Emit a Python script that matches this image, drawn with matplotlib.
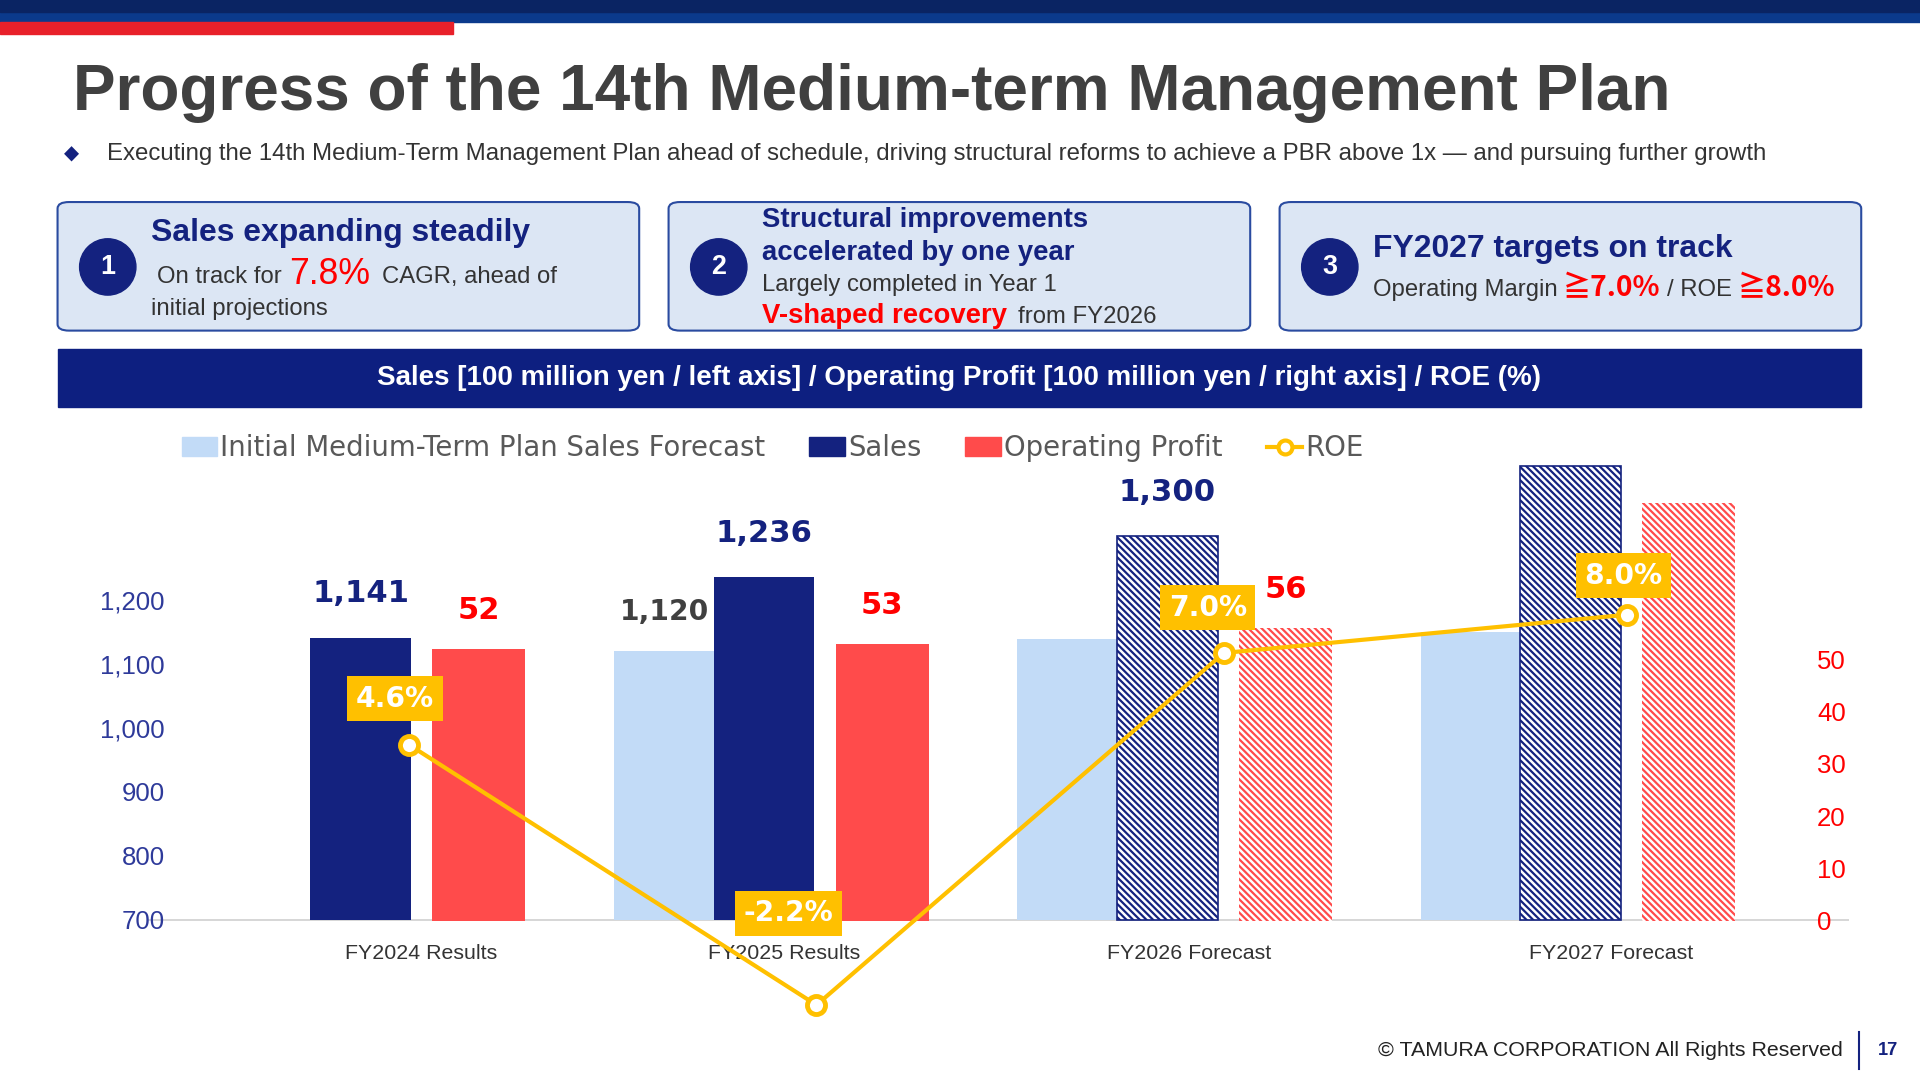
import matplotlib
matplotlib.use("Agg")
import matplotlib.pyplot as plt
from matplotlib.patches import Rectangle, FancyBboxPatch, Ellipse
from matplotlib.lines import Line2D
import numpy as np

plt.rcParams['font.family'] = ['Arial', 'Liberation Sans', 'DejaVu Sans']
plt.rcParams['hatch.linewidth'] = 1.6

categories = ["FY2024 Results", "FY2025 Results", "FY2026 Forecast", "FY2027 Forecast"]
initial_plan = [None, 1120, 1139, 1150]
sales = [1141, 1236, 1300, 1410]
op_profit = [52, 53, 56, 80]
roe = [4.6, -2.2, 7.0, 8.0]
forecast = [False, False, True, True]
sales_labels = ["1,141", "1,236", "1,300", ""]
op_labels = ["52", "53", "56", ""]
roe_labels = ["4.6%", "-2.2%", "7.0%", "8.0%"]
initial_labels = ["", "1,120", "", ""]

NAVY = "#14227F"; LBLUE = "#C2DBF7"; RED = "#FF4B4B"; GOLD = "#FFC000"; DARK = "#404040"
W, H = 1568, 882
def fx(x): return x / W
def fy(y): return 1 - y / H
S = 0.882  # ref px -> pt

fig = plt.figure(figsize=(19.2, 10.8), dpi=100)
fig.patches.append(Rectangle((0, fy(18)), 1, 18 / H, transform=fig.transFigure, color="#0B3A8C", zorder=0))
fig.patches.append(Rectangle((0, fy(10)), 1, 10 / H, transform=fig.transFigure, color="#0A2463", zorder=0))
fig.patches.append(Rectangle((0, fy(28)), fx(370), 10 / H, transform=fig.transFigure, color="#E8202A", zorder=0))
fig.text(fx(60), fy(76), "Progress of the 14th Medium-term Management Plan", fontsize=52.2 * S,
         fontweight="bold", color=DARK, va="center")
fig.text(fx(52), fy(126), "◆", fontsize=16 * S, color=NAVY, va="center", family=["DejaVu Sans"])
fig.text(fx(87), fy(126), "Executing the 14th Medium-Term Management Plan ahead of schedule, driving structural reforms to achieve a PBR above 1x — and pursuing further growth",
         fontsize=19.6 * S, color="#333333", va="center")

for bx in (47, 546, 1045):
    fig.patches.append(FancyBboxPatch((fx(bx), fy(270)), fx(475), 105 / H, transform=fig.transFigure,
                                      boxstyle="round,pad=0,rounding_size=0.006", fc="#DCE6F4", ec="#2A4BA0", lw=1.5))
for cx, n in ((88, "1"), (587, "2"), (1086, "3")):
    fig.patches.append(Ellipse((fx(cx), fy(218)), 46 / W, 46 / H, transform=fig.transFigure, color=NAVY, zorder=2))
    fig.text(fx(cx), fy(218), n, color="white", fontsize=22 * S, fontweight="bold", ha="center", va="center")

fig.text(fx(123), fy(190), "Sales expanding steadily", fontsize=26 * S, fontweight="bold", color=NAVY, va="center")
fig.text(fx(128), fy(226), "On track for ", fontsize=19.5 * S, color="#333333", va="center")
fig.text(fx(236), fy(224), "7.8%", fontsize=29 * S, color="#FF0000", va="center")
fig.text(fx(312), fy(226), "CAGR, ahead of", fontsize=19.5 * S, color="#333333", va="center")
fig.text(fx(123), fy(252), "initial projections", fontsize=19.5 * S, color="#333333", va="center")

fig.text(fx(622), fy(180), "Structural improvements", fontsize=22.5 * S, fontweight="bold", color=NAVY, va="center")
fig.text(fx(622), fy(207), "accelerated by one year", fontsize=22.5 * S, fontweight="bold", color=NAVY, va="center")
fig.text(fx(622), fy(233), "Largely completed in Year 1", fontsize=19.5 * S, color="#333333", va="center")
fig.text(fx(622), fy(258), "V-shaped recovery", fontsize=22.5 * S, fontweight="bold", color="#FF0000", va="center")
fig.text(fx(831), fy(259), "from FY2026", fontsize=19.5 * S, color="#333333", va="center")

fig.text(fx(1121), fy(203), "FY2027 targets on track", fontsize=26 * S, fontweight="bold", color=NAVY, va="center")
fig.text(fx(1121), fy(237), "Operating Margin", fontsize=19.5 * S, color="#333333", va="center")
fig.text(fx(1276), fy(235), "≧7.0%", fontsize=23 * S, fontweight="bold", color="#FF0000", va="center", family=["Noto Sans CJK JP", "DejaVu Sans"])
fig.text(fx(1361), fy(237), "/ ROE", fontsize=19.5 * S, color="#333333", va="center")
fig.text(fx(1419), fy(235), "≧8.0%", fontsize=23 * S, fontweight="bold", color="#FF0000", va="center", family=["Noto Sans CJK JP", "DejaVu Sans"])

fig.patches.append(Rectangle((fx(47), fy(332)), fx(1473), 47 / H, transform=fig.transFigure, color="#0D1F80"))
fig.text(fx(783), fy(309), "Sales [100 million yen / left axis] / Operating Profit [100 million yen / right axis] / ROE (%)",
         fontsize=22.7 * S, fontweight="bold", color="white", ha="center", va="center")

ax = fig.add_axes([fx(120), fy(840), fx(1390), 470 / H])
ax2 = ax.twinx()
ax3 = ax.twinx()
x = np.arange(len(categories))
bw = 0.249
for i in x:
    if initial_plan[i] is not None:
        ax.bar(i - 0.2475, initial_plan[i] - 700, bw, bottom=700, color=LBLUE, zorder=2)
        if initial_labels[i]:
            ax.text(i - 0.2475, initial_plan[i] + 40, initial_labels[i], ha="center", va="bottom",
                    fontsize=23 * S, fontweight="bold", color="#404040", family=["DejaVu Sans"])
    if forecast[i]:
        ax.bar(i, sales[i] - 700, bw, bottom=700, facecolor="white", edgecolor=NAVY, hatch="\\\\\\\\\\", lw=1.2, zorder=2)
        ax2.bar(i + 0.293, op_profit[i], 0.231, facecolor="white", edgecolor=RED, hatch="\\\\\\\\\\", lw=0, zorder=2)
    else:
        ax.bar(i, sales[i] - 700, bw, bottom=700, color=NAVY, zorder=2)
        ax2.bar(i + 0.293, op_profit[i], 0.231, color=RED, zorder=2)
    if sales_labels[i]:
        ax.text(i, sales[i] + 46, sales_labels[i], ha="center", va="bottom", fontsize=25 * S,
                fontweight="bold", color=NAVY, family=["DejaVu Sans"])
    if op_labels[i]:
        ax2.text(i + 0.293, op_profit[i] + 4.5, op_labels[i], ha="center", va="bottom", fontsize=25 * S,
                 fontweight="bold", color="#FF0000", family=["DejaVu Sans"])

roe_x = [0.12, 1.13, 2.14, 3.14]
ax3.plot(roe_x, roe, color=GOLD, lw=3, marker="o", ms=13, mfc="white", mec=GOLD, mew=3.5, zorder=5)
roe_lab_y = [5.8, 0.2, 8.18, 9.02]
roe_lab_x = [0.085, 1.06, 2.10, 3.13]
for lx, ly, t in zip(roe_lab_x, roe_lab_y, roe_labels):
    ax3.text(lx, ly, t, ha="center", va="center", fontsize=23 * S, fontweight="bold", color="white",
             family=["DejaVu Sans"], zorder=6,
             bbox=dict(boxstyle="square,pad=0.3", fc=GOLD, ec="none"))

ax.set_xlim(-0.53, 3.69)
ax.set_ylim(700 - 89 / 0.522, 700 + 381 / 0.522)
ax2.set_ylim(-88 / 4.27, 382 / 4.27)
ax3.set_ylim(-88 / 31.25, 382 / 31.25)
ax.set_yticks([700, 800, 900, 1000, 1100, 1200])
ax.set_yticklabels(["700", "800", "900", "1,000", "1,100", "1,200"])
ax2.set_yticks([0, 10, 20, 30, 40, 50])
ax3.set_yticks([])
for a in (ax, ax2, ax3):
    for s in a.spines.values():
        s.set_visible(False)
ax.tick_params(axis="y", length=0, labelsize=21 * S, labelcolor="#2E3A9A", pad=-13)
ax2.tick_params(axis="y", length=0, labelsize=21 * S, labelcolor="#FF0000", pad=-23)
ax.set_xticks([])
ax.axhline(700, color="#D0D0D0", lw=1.2, zorder=1)
cat_offsets = [0.15, 0.05, 0.055, 0.10]
for i, c in enumerate(categories):
    ax.text(i + cat_offsets[i], 700 - 28 / 0.522, c, ha="center", va="center", fontsize=17.5 * S, color="#333333")

handles = [Rectangle((0, 0), 1, 1, color=LBLUE), Rectangle((0, 0), 1, 1, color=NAVY),
           Rectangle((0, 0), 1, 1, color=RED),
           Line2D([], [], color=GOLD, lw=3, marker="o", ms=10, mfc="white", mec=GOLD, mew=3)]
fig.legend(handles, ["Initial Medium-Term Plan Sales Forecast", "Sales", "Operating Profit", "ROE"],
           loc="center left", bbox_to_anchor=(fx(128), fy(366)), ncol=4, frameon=False,
           labelcolor="#595959", handlelength=1.3, handletextpad=0.1, columnspacing=1.6,
           prop={"family": ["DejaVu Sans"], "size": 22.5 * S})

fig.text(fx(1505), fy(858), "© TAMURA CORPORATION All Rights Reserved", fontsize=17.5 * S, color="#222222",
         ha="right", va="center")
fig.add_artist(Line2D([fx(1518), fx(1518)], [fy(843), fy(873)], transform=fig.transFigure, color=NAVY, lw=1.5))
fig.text(fx(1542), fy(858), "17", fontsize=15 * S, color=NAVY, fontweight="bold", ha="center", va="center")

fig.savefig("out.png", dpi=100)
